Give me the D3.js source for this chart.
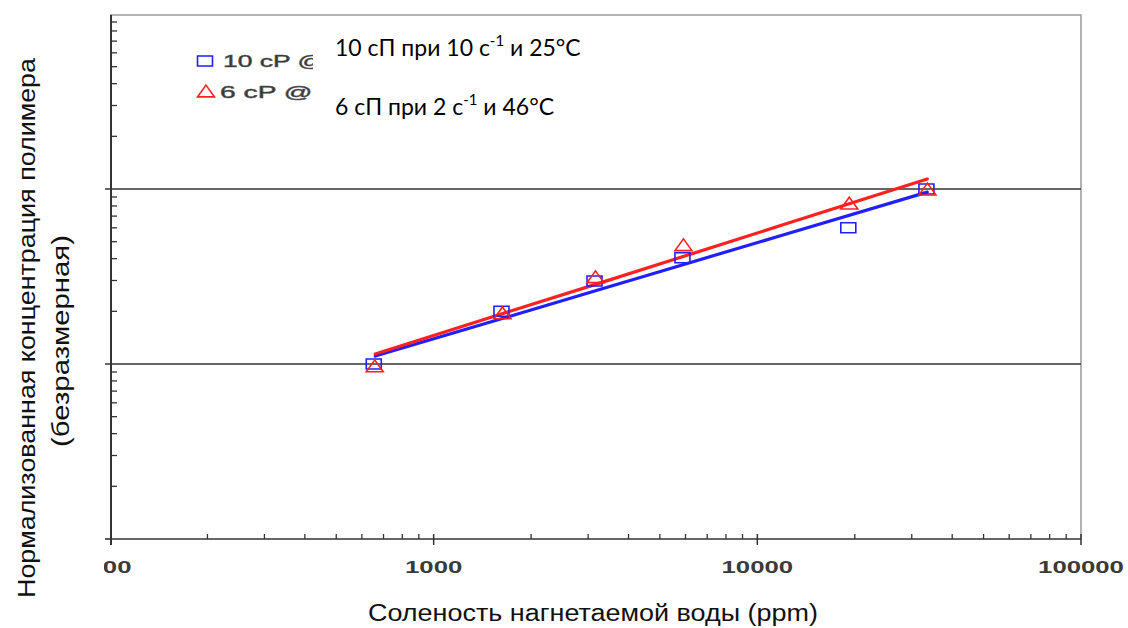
<!DOCTYPE html>
<html>
<head>
<meta charset="utf-8">
<script src="https://cdn.jsdelivr.net/npm/d3@7"></script>
<style>
  html, body { margin: 0; padding: 0; background: #fff; }
  svg { display: block; }
</style>
</head>
<body>
<svg id="chart" width="1128" height="628"></svg>
<script>
// salinity (ppm) of each measurement
const salinity = [653, 1620, 3140, 5870, 19100, 33300];
// 10 cP @ 10 1/s, 25°C  (blue squares)
const conc10cP = [1.0, 2.0, 2.98, 4.05, 6.0, 10.0];
// 6 cP @ 2 1/s, 46°C  (red triangles)
const conc6cP = [0.95, 1.91, 3.07, 4.68, 8.1, 9.74];

// fitted trend lines
const fit10cP = [[660, 1.11], [1600, 1.8], [3200, 2.64], [6000, 3.73], [12000, 5.46], [33500, 9.6]];
const fit6cP = [[660, 1.14], [1600, 1.92], [3200, 2.87], [6000, 4.15], [12000, 6.24], [33500, 11.4]];

const xTickValues = [100, 1000, 10000, 100000];
const legendLabels = ["10 cP @", "6 cP @ 2"];
const noteLines = [
  ["10 сП при 10 с", "-1", " и 25°С"],
  ["6 сП при 2 с", "-1", " и 46°С"]
];
const xTitle = "Соленость нагнетаемой воды (ppm)";
const yTitle = ["Нормализованная концентрация полимера", "(безразмерная)"];

const BLUE = "#1f1fff";
const RED = "#ff2020";
const SANS = "'Liberation Sans', Arial, sans-serif";

const svg = d3.select("#chart");
const plotLeft = 110, plotRight = 1081, plotTop = 15, plotBottom = 539;

const x = d3.scaleLog().domain([100, 100000]).range([plotLeft, plotRight]);
const y = d3.scaleLog().domain([0.1, 100]).range([plotBottom, 14]);

// frame (top + right in grey)
svg.append("path")
  .attr("d", `M${plotLeft},${plotTop}H${plotRight}V${plotBottom}`)
  .attr("fill", "none")
  .attr("stroke", "#9a9a9a")
  .attr("stroke-width", 1.5);

// horizontal grid lines at the decades
svg.selectAll(".grid")
  .data([1, 10])
  .enter()
  .append("line")
  .attr("x1", plotLeft - 5)
  .attr("x2", plotRight)
  .attr("y1", (d) => y(d))
  .attr("y2", (d) => y(d))
  .attr("stroke", "#333")
  .attr("stroke-width", 1.6);

// y minor ticks
const yMinor = [];
[0.1, 1, 10].forEach((dec) => {
  for (let k = 2; k <= 9; k++) yMinor.push(dec * k);
});
svg.selectAll(".ytick")
  .data(yMinor)
  .enter()
  .append("line")
  .attr("x1", plotLeft)
  .attr("x2", plotLeft + 7)
  .attr("y1", (d) => y(d))
  .attr("y2", (d) => y(d))
  .attr("stroke", "#333")
  .attr("stroke-width", 1.3);

// x minor ticks
const xMinor = [];
[100, 1000, 10000].forEach((dec) => {
  for (let k = 2; k <= 9; k++) xMinor.push(dec * k);
});
svg.selectAll(".xtick")
  .data(xMinor)
  .enter()
  .append("line")
  .attr("x1", (d) => x(d))
  .attr("x2", (d) => x(d))
  .attr("y1", plotBottom - 5)
  .attr("y2", plotBottom)
  .attr("stroke", "#333")
  .attr("stroke-width", 1.3);

// x major ticks
svg.selectAll(".xmajor")
  .data(xTickValues.slice(1))
  .enter()
  .append("line")
  .attr("x1", (d) => x(d))
  .attr("x2", (d) => x(d))
  .attr("y1", plotBottom - 5)
  .attr("y2", plotBottom + 6)
  .attr("stroke", "#333")
  .attr("stroke-width", 1.5);

// axes lines
svg.append("line")
  .attr("x1", plotLeft).attr("x2", plotRight)
  .attr("y1", plotBottom).attr("y2", plotBottom)
  .attr("stroke", "#333").attr("stroke-width", 1.6);
svg.append("line")
  .attr("x1", plotLeft + 1).attr("x2", plotLeft + 1)
  .attr("y1", plotTop).attr("y2", plotBottom + 6)
  .attr("stroke", "#333").attr("stroke-width", 2);
svg.append("line")
  .attr("x1", plotLeft - 5).attr("x2", plotLeft)
  .attr("y1", plotBottom).attr("y2", plotBottom)
  .attr("stroke", "#333").attr("stroke-width", 1.6);

// x tick labels (stretched, the first one clipped like the source)
svg.append("clipPath").attr("id", "xlab-clip")
  .append("rect").attr("x", 104).attr("y", 540).attr("width", 1024).attr("height", 50);
svg.append("g")
  .attr("clip-path", "url(#xlab-clip)")
  .selectAll("text")
  .data(xTickValues)
  .enter()
  .append("text")
  .attr("x", (d) => x(d) - String(d).length * 7.15)
  .attr("y", 573)
  .attr("textLength", (d) => String(d).length * 14.3)
  .attr("lengthAdjust", "spacingAndGlyphs")
  .attr("font-family", SANS)
  .attr("font-size", 16)
  .attr("font-weight", "bold")
  .attr("fill", "#3a3a3a")
  .text((d) => d);

// trend lines
const line = d3.line().x((d) => x(d[0])).y((d) => y(d[1]));
[[fit10cP, BLUE], [fit6cP, RED]].forEach(([pts, color]) => {
  svg.append("path")
    .datum(pts)
    .attr("d", line)
    .attr("fill", "none")
    .attr("stroke", color)
    .attr("stroke-width", 3.2)
    .attr("stroke-linecap", "round");
});

// markers
const square = d3.symbol(d3.symbolSquare, 100);
const triangle = d3.symbol(d3.symbolTriangle, 80);
svg.selectAll(".sq")
  .data(salinity.map((s, i) => [s, conc10cP[i]]))
  .enter()
  .append("path")
  .attr("d", square)
  .attr("transform", (d) => `translate(${x(d[0])},${y(d[1])}) scale(1.5,1)`)
  .attr("fill", "none")
  .attr("stroke", BLUE)
  .attr("stroke-width", 1.6)
  .attr("vector-effect", "non-scaling-stroke");
svg.selectAll(".tri")
  .data(salinity.map((s, i) => [s, conc6cP[i]]))
  .enter()
  .append("path")
  .attr("d", triangle)
  .attr("transform", (d) => `translate(${x(d[0]) + 1},${y(d[1])}) scale(1.25,1)`)
  .attr("fill", "none")
  .attr("stroke", RED)
  .attr("stroke-width", 1.6)
  .attr("vector-effect", "non-scaling-stroke");

// original legend (partly covered by the Russian note)
const legend = svg.append("g");
legend.append("path")
  .attr("d", square)
  .attr("transform", "translate(205,61) scale(1.5,1)")
  .attr("fill", "none").attr("stroke", BLUE).attr("stroke-width", 1.6)
  .attr("vector-effect", "non-scaling-stroke");
legend.append("path")
  .attr("d", triangle)
  .attr("transform", "translate(206,93) scale(1.25,1)")
  .attr("fill", "none").attr("stroke", RED).attr("stroke-width", 1.6)
  .attr("vector-effect", "non-scaling-stroke");
legend.selectAll("text")
  .data(legendLabels)
  .enter()
  .append("text")
  .attr("x", (d, i) => (i === 0 ? 223 : 220))
  .attr("y", (d, i) => 67 + i * 31)
  .attr("textLength", (d) => d.length * 14.5)
  .attr("lengthAdjust", "spacingAndGlyphs")
  .attr("font-family", SANS)
  .attr("font-size", 17)
  .attr("fill", "#333")
  .attr("stroke", "#555")
  .attr("stroke-width", 0.5)
  .text((d) => d);

// white patch with the translated note
svg.append("rect")
  .attr("x", 313).attr("y", 28).attr("width", 300).attr("height", 100)
  .attr("fill", "#fff");
noteLines.forEach((parts, i) => {
  const t = svg.append("text")
    .attr("x", 335)
    .attr("y", 56 + i * 59)
    .attr("font-family", "Lato, 'Open Sans', sans-serif")
    .attr("font-size", 23)
    .attr("fill", "#000");
  t.append("tspan").text(parts[0]);
  t.append("tspan").attr("dy", -10).attr("font-size", 15).text(parts[1]);
  t.append("tspan").attr("dy", 10).text(parts[2]);
});

// axis titles
svg.append("text")
  .attr("x", 368)
  .attr("y", 621)
  .attr("textLength", 450)
  .attr("lengthAdjust", "spacingAndGlyphs")
  .attr("font-family", SANS)
  .attr("font-size", 23)
  .attr("fill", "#111")
  .text(xTitle);

const yTitleLength = [540, 212];
svg.selectAll(".ytitle")
  .data(yTitle)
  .enter()
  .append("text")
  .attr("transform", (d, i) => `translate(${i === 0 ? 35 : 69},${i === 0 ? 328 : 341}) rotate(-90)`)
  .attr("x", (d, i) => -yTitleLength[i] / 2)
  .attr("textLength", (d, i) => yTitleLength[i])
  .attr("lengthAdjust", "spacingAndGlyphs")
  .attr("font-family", SANS)
  .attr("font-size", 23)
  .attr("fill", "#111")
  .text((d) => d);
</script>
</body>
</html>
